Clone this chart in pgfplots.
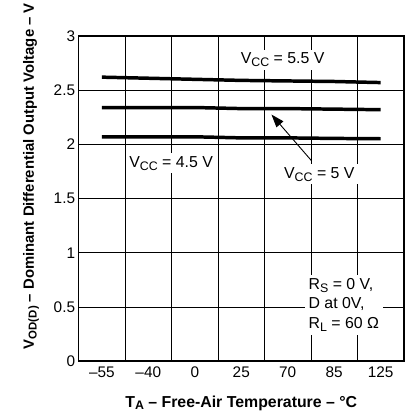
\documentclass[border=0pt]{standalone}
\usepackage{fontspec}
\setmainfont{Liberation Sans}
\usepackage{pgfplots}
\pgfplotsset{compat=1.18}
\usetikzlibrary{arrows.meta}
\newcommand\sub[1]{\raisebox{-0.35ex}{\fontsize{12.5}{12.5}\selectfont #1}}
\newcommand\subs[1]{\raisebox{-0.35ex}{\fontsize{11.5}{11.5}\selectfont #1}}
\begin{document}
\begin{tikzpicture}
\begin{axis}[name=ax, scale only axis, width=327bp, height=327bp,
 xmin=-0.5, xmax=6.5, ymin=0, ymax=3,
 xtick={0,1,2,3,4,5,6}, xticklabels={--55,--40,0,25,70,85,125},
 minor xtick={0.5,1.5,2.5,3.5,4.5,5.5},
 xminorgrids, minor grid style={black, line width=0.7bp},
 ytick={0,0.5,1,1.5,2,2.5,3}, yticklabels={0,0.5,1,1.5,2,2.5,3},
 ymajorgrids, major grid style={black, line width=0.7bp},
 tick style={draw=none},
 axis line style={line width=1.6bp},
 tick label style={font=\fontsize{15.5}{17}\selectfont},
 xticklabel style={yshift=-2bp},
 xlabel={T\sub{A} -- Free-Air Temperature -- °C},
 ylabel={V\subs{OD(D)} -- Dominant Differential Output Voltage -- V},
 xlabel style={font=\bfseries\fontsize{16}{18}\selectfont, at={(axis description cs:0.5,-0.128)}, anchor=center},
 ylabel style={font=\bfseries\fontsize{15}{17}\selectfont, at={(axis description cs:-0.146,0.569)}, anchor=center},
]
\addplot[black, line width=3.5bp] coordinates {(0,2.62) (1,2.61) (2,2.60) (3,2.59) (4,2.585) (5,2.58) (6,2.57)};
\addplot[black, line width=3.5bp] coordinates {(0,2.34) (1,2.34) (2,2.34) (3,2.33) (4,2.33) (5,2.325) (6,2.32)};
\addplot[black, line width=3.5bp] coordinates {(0,2.07) (1,2.07) (2,2.07) (3,2.06) (4,2.06) (5,2.055) (6,2.052)};
\node[fill=white, inner sep=3bp, font=\fontsize{16}{18}\selectfont] at (axis cs:3.89,2.78) {V\sub{CC} = 5.5 V};
\node[fill=white, inner sep=3bp, font=\fontsize{16}{18}\selectfont] at (axis cs:1.49,1.826) {V\sub{CC} = 4.5 V};
\node[fill=white, inner sep=3bp, font=\fontsize{16}{18}\selectfont] at (axis cs:4.68,1.725) {V\sub{CC} = 5 V};
\node[fill=white, inner sep=4bp, anchor=west, align=left, font=\fontsize{16}{19.5}\selectfont] at (axis cs:4.36,0.52) {R\sub{S} = 0 V,\\D at 0V,\\R\sub{L} = 60 Ω};
\draw[black, line width=0.9bp, -{Triangle[length=13bp,width=9bp]}] (axis cs:4.51,1.85) -- (axis cs:3.65,2.275);
\end{axis}
\path (ax.south west) ++(-79bp,-55bp) rectangle ++(409bp,416bp);
\end{tikzpicture}
\end{document}
